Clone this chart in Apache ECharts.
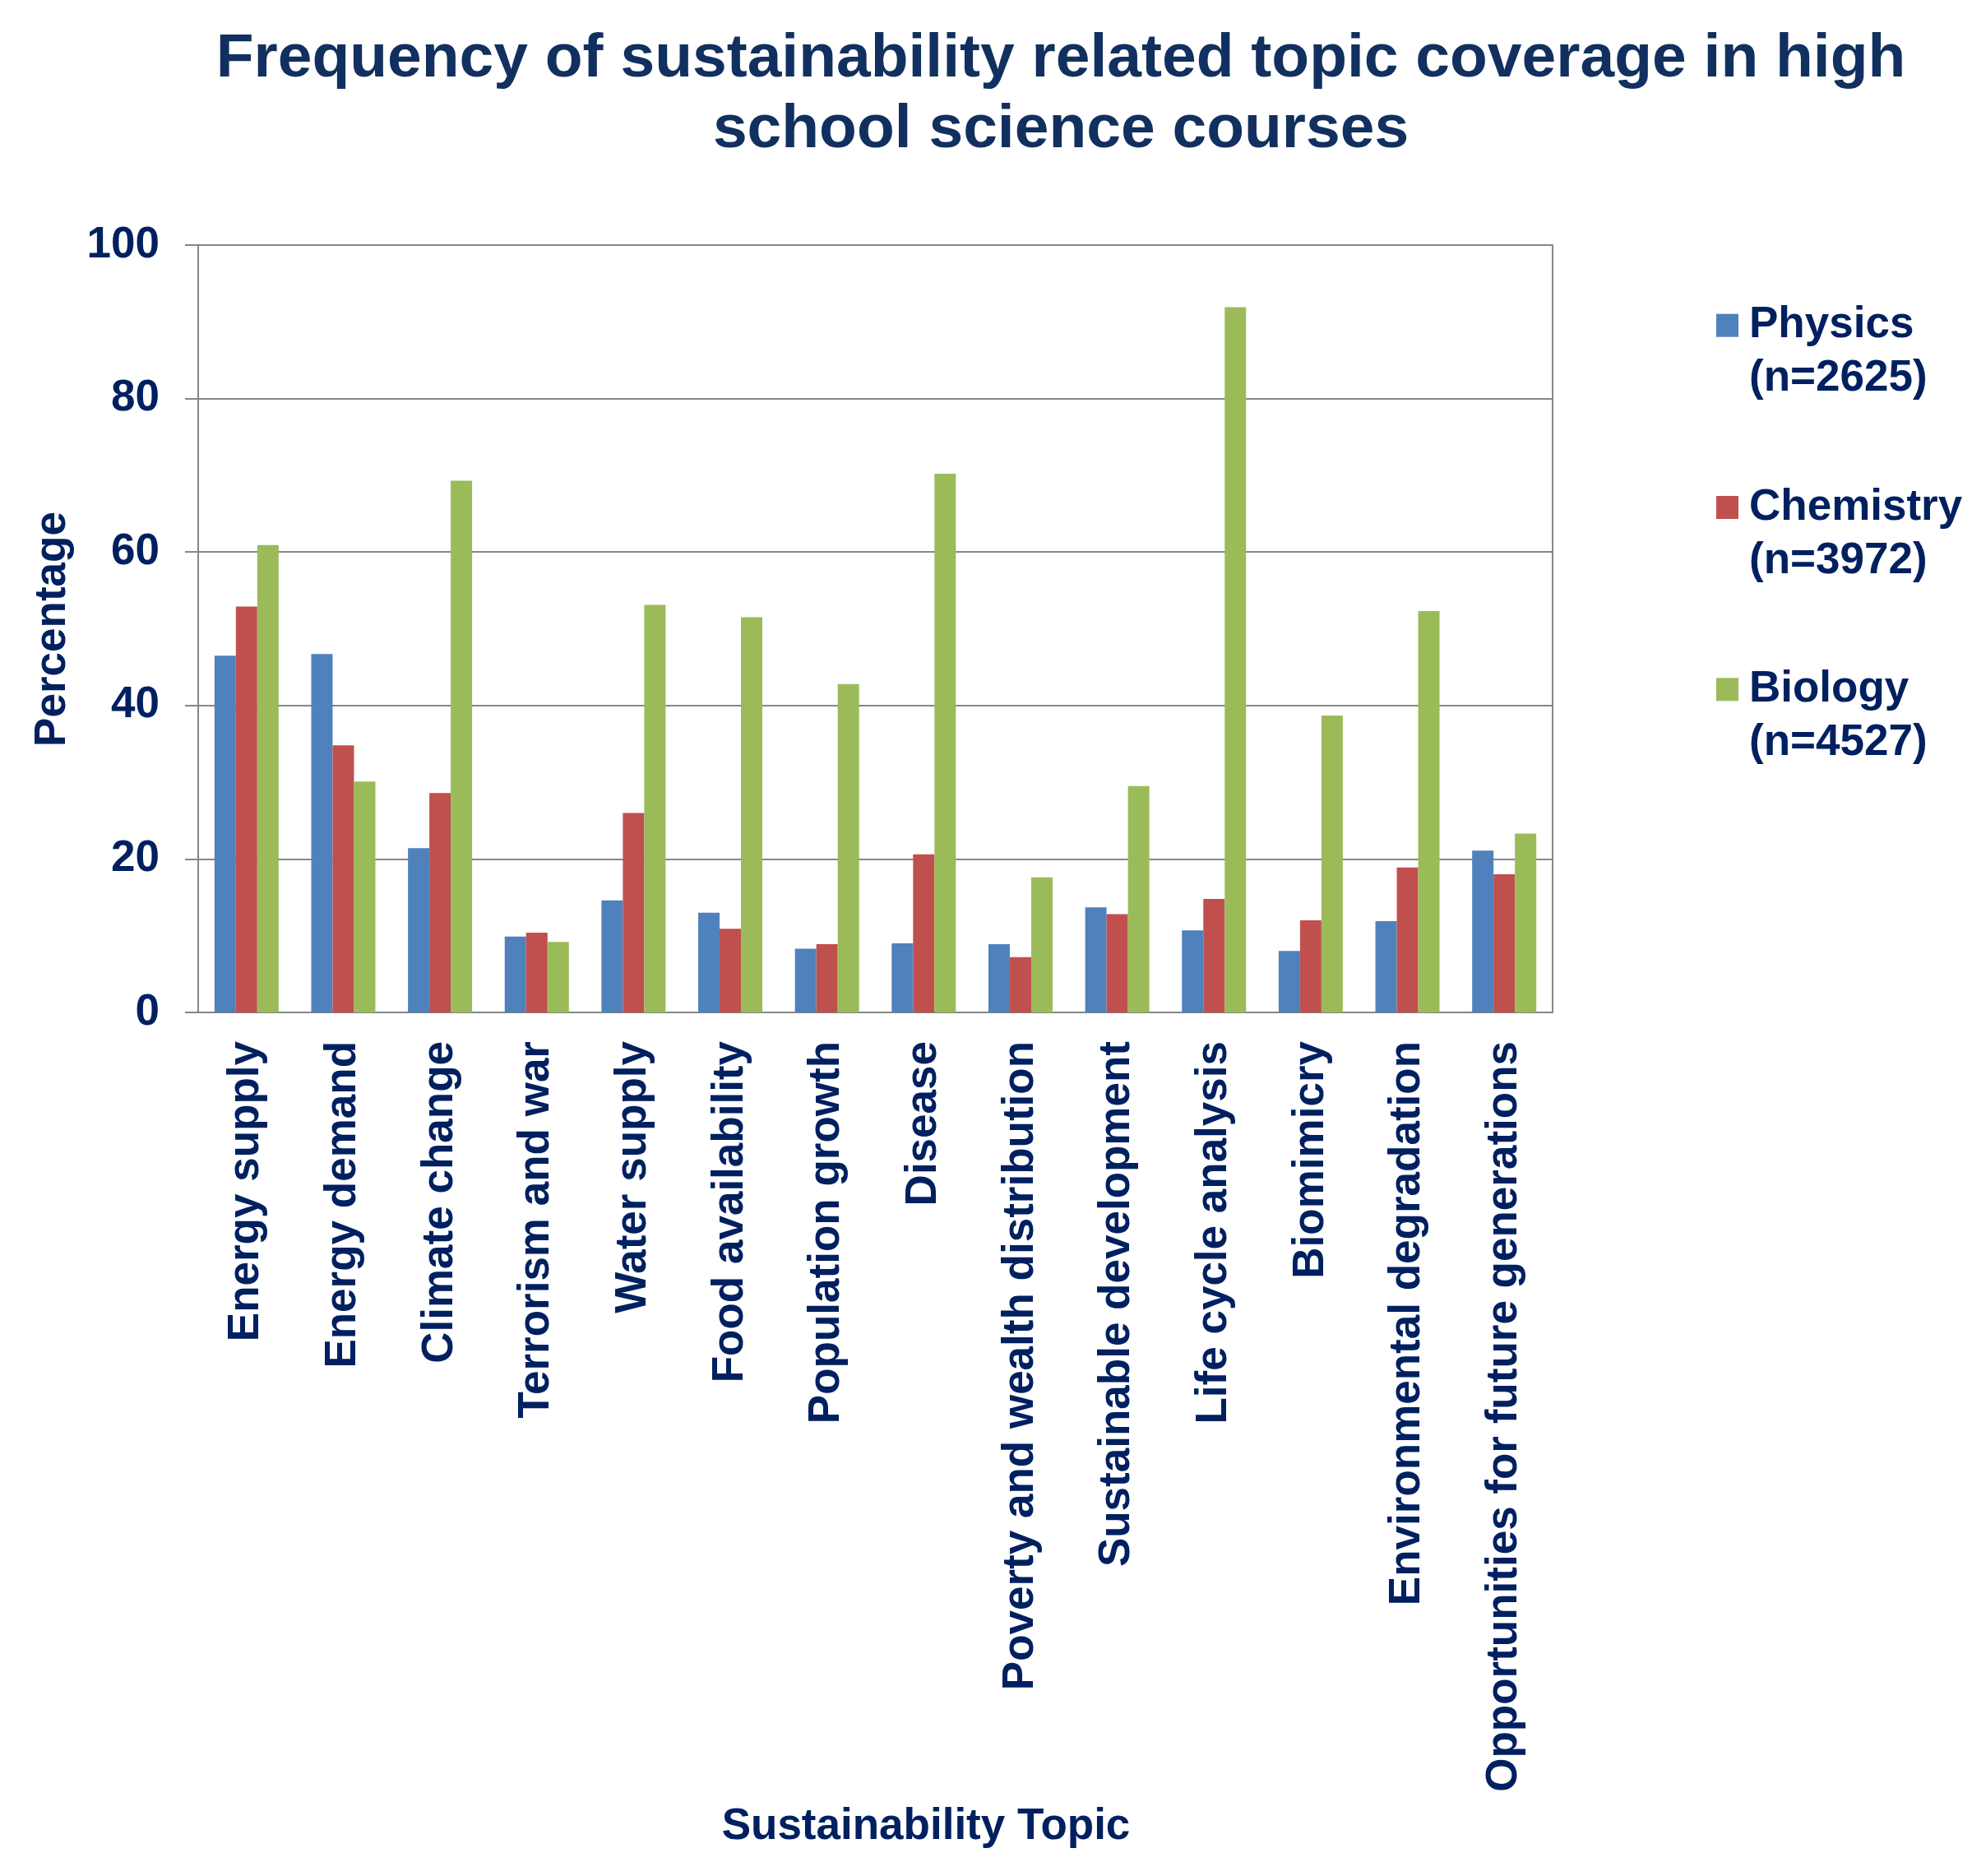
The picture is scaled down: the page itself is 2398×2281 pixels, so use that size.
<title>Sustainability topic coverage</title>
<script src="https://cdn.jsdelivr.net/npm/echarts@6/dist/echarts.min.js"></script>
<style>
  html, body { margin: 0; padding: 0; background: #fff; }
  #chart { width: 2398px; height: 2281px; }
</style>
<div id="chart"></div>
<script>
// data
var topics = ['Energy supply', 'Energy demand', 'Climate change', 'Terrorism and war', 'Water supply',
  'Food availability', 'Population growth', 'Disease', 'Poverty and wealth distribution',
  'Sustainable development', 'Life cycle analysis', 'Biomimicry', 'Environmental degradation',
  'Opportunities for future generations'];
var physics   = [46.5, 46.7, 21.4, 9.9, 14.6, 13.0, 8.3, 9.0, 8.9, 13.7, 10.7, 8.0, 11.9, 21.1];
var chemistry = [52.9, 34.8, 28.6, 10.4, 26.0, 10.9, 8.9, 20.6, 7.2, 12.8, 14.8, 12.0, 18.9, 18.0];
var biology   = [60.9, 30.1, 69.3, 9.2, 53.1, 51.5, 42.8, 70.2, 17.6, 29.5, 91.9, 38.7, 52.3, 23.3];
var seriesNames = ['Physics\n(n=2625)', 'Chemistry\n(n=3972)', 'Biology\n(n=4527)'];
var seriesColors = ['#4F81BD', '#C0504D', '#9BBB59'];
var yTicks = [0, 20, 40, 60, 80, 100];

var navy = '#002060';
var gray = '#868686';
var font = 'Liberation Sans, Arial, sans-serif';
var fs = 53;

var chart = echarts.init(document.getElementById('chart'));

var series = [physics, chemistry, biology].map(function (vals, i) {
  return {
    name: seriesNames[i],
    type: 'bar',
    data: vals,
    barWidth: 26,
    barGap: '0%',
    itemStyle: { color: seriesColors[i] }
  };
});

chart.setOption({
  animation: false,
  textStyle: { fontFamily: font },
  title: [{
    text: 'Frequency of sustainability related topic coverage in high\nschool science courses',
    left: 1290, top: 29, textAlign: 'center', padding: 0,
    textStyle: { color: '#11305F', fontSize: 75, fontWeight: 'bold', lineHeight: 86, fontFamily: font }
  }, {
    text: 'Sustainability Topic',
    left: 1126, top: 2176, textAlign: 'center', padding: 0,
    textStyle: { color: navy, fontSize: fs, fontWeight: 'bold', fontFamily: font }
  }],
  // y axis title, placed by hand
  graphic: [{
    type: 'text', x: 64, y: 765, rotation: Math.PI / 2,
    style: { text: 'Percentage', fill: navy, font: 'bold ' + fs + 'px ' + font,
      align: 'center', verticalAlign: 'middle' }
  }],
  legend: {
    orient: 'vertical',
    left: 2082, top: 280,
    itemWidth: 27, itemHeight: 28, itemGap: 0,
    icon: 'rect',
    data: seriesNames,
    // blank first line so the icon sits beside the subject name
    formatter: function (name) { return '\u00a0\n' + name; },
    textStyle: { color: navy, fontSize: fs, fontWeight: 'bold', lineHeight: 65,
      padding: [0, 0, 0, 8], fontFamily: font }
  },
  grid: { left: 241, right: 510, top: 298, bottom: 1050, containLabel: false },
  xAxis: {
    type: 'category',
    data: topics,
    axisLine: { lineStyle: { color: gray, width: 2 } },
    axisTick: { show: false },
    axisLabel: { interval: 0, rotate: 90, margin: 35, color: navy, fontSize: fs, fontWeight: 'bold', fontFamily: font }
  },
  yAxis: [{
    type: 'value', min: 0, max: 100, interval: 20,
    axisLine: { show: true, lineStyle: { color: gray, width: 2 } },
    axisTick: { show: true, inside: false, length: 16, lineStyle: { color: gray, width: 2 } },
    splitLine: { lineStyle: { color: gray, width: 2 } },
    axisLabel: { margin: 47, color: navy, fontSize: fs, fontWeight: 'bold', fontFamily: font,
      customValues: yTicks }
  }, {
    type: 'value', min: 0, max: 100, interval: 20, position: 'right',
    axisLine: { show: true, lineStyle: { color: gray, width: 2 } },
    axisTick: { show: false }, axisLabel: { show: false }, splitLine: { show: false }
  }],
  series: series
});
</script>
